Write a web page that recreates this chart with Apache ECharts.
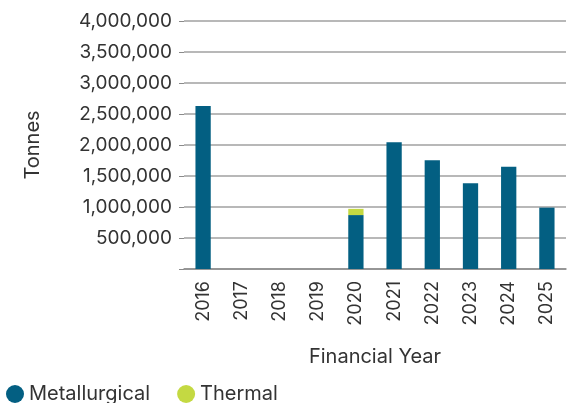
<!DOCTYPE html>
<html>
<head>
<meta charset="utf-8">
<script src="https://cdn.jsdelivr.net/npm/echarts@6/dist/echarts.min.js"></script>
<style>
html,body{margin:0;padding:0;background:#fff;}
#chart{width:577px;height:403px;}
</style>
</head>
<body>
<div id="chart"></div>
<script>
// data
var years = ['2016','2017','2018','2019','2020','2021','2022','2023','2024','2025'];
var metallurgical = [2630000, 0, 0, 0, 870000, 2045000, 1755000, 1385000, 1650000, 990000];
var thermal = [0, 0, 0, 0, 100000, 0, 0, 0, 0, 0];
var yTicks = [0, 500000, 1000000, 1500000, 2000000, 2500000, 3000000, 3500000, 4000000];

var myChart = echarts.init(document.getElementById('chart'));
var txt = '#333333';
var option = {
    animation:false,
    textStyle:{fontFamily:'Inter'},
    grid:{left:184, right:11, top:21, bottom:134},
    legend:{
        left:1, top:379,
        icon:'circle', itemWidth:18, itemHeight:18, itemGap:27, itemStyle:{borderWidth:0},
        textStyle:{fontSize:20, color:txt, fontFamily:'Inter'},
        data:['Metallurgical','Thermal']
    },
    xAxis:{
        type:'category',
        data:years,
        name:'Financial Year',
        nameLocation:'middle',
        nameGap:78,
        nameTextStyle:{fontSize:20, color:txt},
        axisLine:{lineStyle:{color:'#8a8a8a', width:1.5}},
        axisTick:{show:false},
        axisLabel:{rotate:90, fontSize:18, color:txt, margin:12}
    },
    yAxis:{
        type:'value',
        min:yTicks[0], max:yTicks[yTicks.length-1], interval:500000,
        name:'Tonnes',
        nameLocation:'middle',
        nameGap:141,
        nameTextStyle:{fontSize:20, color:txt},
        axisLine:{show:false},
        axisTick:{show:true, length:5, lineStyle:{color:'#8a8a8a'}},
        splitLine:{lineStyle:{color:'#a0a0a0', width:1.5}},
        axisLabel:{fontSize:19, color:txt, margin:12, formatter:function (v){
            if (v === 0) return '';
            return v.toLocaleString('en-US');
        }}
    },
    series:[
        {name:'Metallurgical', type:'bar', stack:'t', data:metallurgical, barWidth:'40%',
            itemStyle:{color:'#035f82'}},
        {name:'Thermal', type:'bar', stack:'t', data:thermal, barWidth:'40%',
            itemStyle:{color:'#c4d942'}}
    ]
};
myChart.setOption(option);
</script>
</body>
</html>
